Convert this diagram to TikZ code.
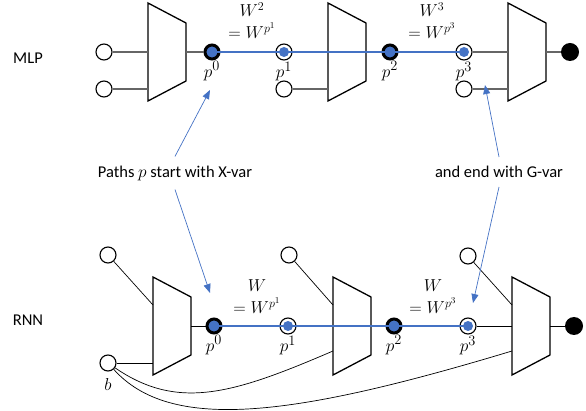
\documentclass[tikz,border=0pt]{standalone}
\usepackage{fontspec}
\setmainfont{Carlito}
\usepackage{tikz}
\usetikzlibrary{
    arrows.meta,
    calc,
    positioning
}
\definecolor{pathblue}{HTML}{4472C4}
\tikzset{
    mux/.style={draw, line width=1.3pt, fill=white},
    hollow/.style={circle, draw, line width=1.1pt, fill=white, minimum size=16pt, inner sep=0pt},
    xvar/.style={circle, draw=black, line width=3pt, fill=pathblue, minimum size=14pt, inner sep=0pt},
    gvar/.style={hollow, path picture={\fill[pathblue] (path picture bounding box.center) circle (5pt);}},
    yvar/.style={circle, fill=black, minimum size=18pt, inner sep=0pt},
    wire/.style={draw=black!60, line width=1.3pt},
    thinwire/.style={draw=black, line width=0.7pt},
    walk/.style={draw=pathblue, line width=2.8pt},
    hint/.style={draw=pathblue, line width=0.7pt, -{Triangle[length=9pt,width=7pt]}},
    wlabel/.style={align=center, inner sep=0pt, font=\fontsize{18.5}{22}\selectfont},
    every label/.style={inner sep=1pt, font=\fontsize{19}{22}\selectfont}
}

\begin{document}
\begin{tikzpicture}[x=1pt, y=-1pt, font=\fontsize{16.5}{21}\selectfont]
    \useasboundingbox (0,0) rectangle (586,411);
    % the six multiplexers
    \foreach \n/\x/\y in {m1/148/52, m2/328/52, m3/508/52, r1/153/326, r2/333/326, r3/512/326} {
        \begin{scope}[shift={(\x,\y)}]
            \draw[mux] (0,-49) -- (38,-29) -- (38,29) -- (0,49) -- cycle;
            \coordinate (\n-i1) at (0,0);
            \coordinate (\n-i2) at (0,37);
            \coordinate (\n-i3) at (0,-21);
            \coordinate (\n-i4) at (0,25);
            \coordinate (\n-o) at (38,0);
        \end{scope}
    }

    % MLP
    \node (mlp) at (28,58) {MLP};
    \node[hollow] (a1) at (104,52) {};
    \node[hollow] (a2) at (104,89) {};
    \node[xvar, label=below:$p^0$] (p0) at (212,52) {};
    \node[gvar, label=below:$p^1$] (p1) at (284,52) {};
    \node[hollow] (a3) at (284,89) {};
    \node[xvar, label=below:$p^2$] (p2) at (390,52) {};
    \node[gvar, label=below:$p^3$] (p3) at (464,52) {};
    \node[hollow] (a4) at (464,89) {};
    \node[yvar] (y1) at (570,52) {};
    \node[wlabel] (w2) at (252,21) {$W^2$\\$= W^{p^1}$};
    \node[wlabel] (w3) at (432,21) {$W^3$\\$= W^{p^3}$};
    \draw[wire] (a1) -- (m1-i1);
    \draw[wire] (a2) -- (m1-i2);
    \draw[wire] (m1-o) -- (p0);
    \draw[wire] (a3) -- (m2-i2);
    \draw[wire] (p3) -- (m3-i1);
    \draw[wire] (a4) -- (m3-i2);
    \draw[wire] (m3-o) -- (y1);
    \draw[walk] (p0.center) -- (p1.center) -- (p2.center) -- (p3.center);

    % RNN
    \node (rnn) at (28,320) {RNN};
    \node[hollow] (c1) at (108,255) {};
    \node[hollow, label={[label distance=6pt]below:$b$}] (b) at (108,363) {};
    \node[xvar, label=below:$p^0$] (q0) at (214,326) {};
    \node[gvar, label=below:$p^1$] (q1) at (288,326) {};
    \node[hollow] (c2) at (289,255) {};
    \node[xvar, label=below:$p^2$] (q2) at (394,326) {};
    \node[gvar, label=below:$p^3$] (q3) at (468,326) {};
    \node[hollow] (c3) at (468,256) {};
    \node[yvar] (y2) at (574,326) {};
    \node[wlabel] (v1) at (257,297) {$W$\\$= W^{p^1}$};
    \node[wlabel] (v3) at (433,297) {$W$\\$= W^{p^3}$};
    \draw[thinwire] (c1) -- (r1-i3);
    \draw[thinwire] (b) -- (r1-i2);
    \draw[thinwire] (r1-o) -- (q0);
    \draw[thinwire] (c2) -- (r2-i3);
    \draw[thinwire] (c3) -- (r3-i3);
    \draw[thinwire] (q3) -- (r3-i1);
    \draw[thinwire] (r3-o) -- (y2);
    \draw[thinwire] (b) .. controls (178,411) and (233,394) .. (r2-i4);
    \draw[thinwire] (b) .. controls (170,432) and (290,418) .. (r3-i4);
    \draw[walk, line width=1.6pt] (q0.center) -- (q1.center);
    \draw[walk] (q1.center) -- (q2.center);
    \draw[walk, line width=1.6pt] (q2.center) -- (q3.center);

    % notes
    \node[inner ysep=9pt] (xtext) at (175,173) {Paths $p$ start with X-var};
    \node[inner ysep=9pt] (gtext) at (499,172) {and end with G-var};
    \coordinate (t1) at (210,90);
    \coordinate (t2) at (210,293);
    \coordinate (t3) at (485,85);
    \coordinate (t4) at (473,303);
    \draw[hint] (xtext.north) -- (t1);
    \draw[hint] (xtext.south) -- (t2);
    \draw[hint] (gtext.north) -- (t3);
    \draw[hint] (gtext.south) -- (t4);
\end{tikzpicture}
\end{document}
